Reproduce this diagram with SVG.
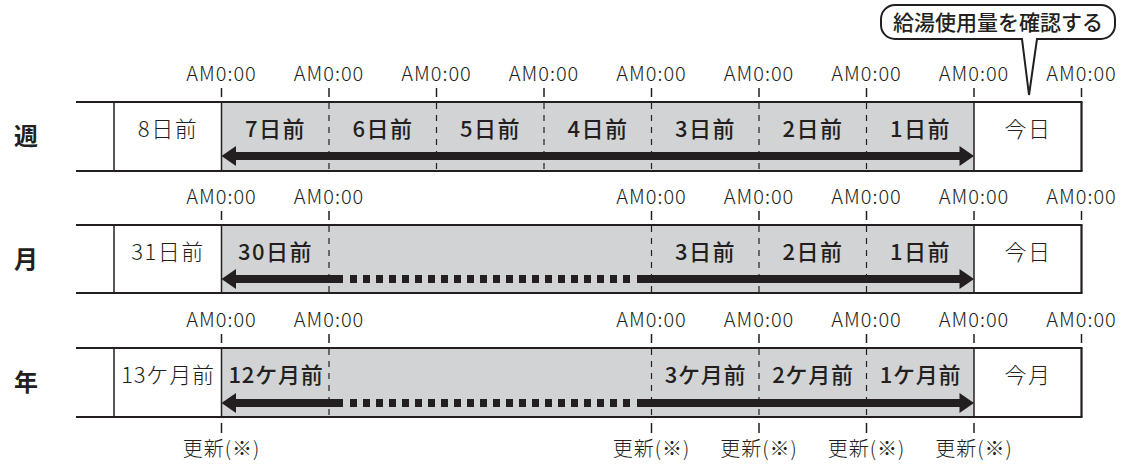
<svg xmlns="http://www.w3.org/2000/svg" width="1128" height="466" viewBox="0 0 1128 466">
<style>
text{font-family:"Noto Sans CJK JP","Noto Sans",sans-serif;fill:#231f20;text-anchor:middle}
.am{font-size:20px;letter-spacing:1px;font-weight:300}
.cell{font-size:22px;letter-spacing:1.5px;font-weight:300}
.b{font-weight:500}
.lbl{font-size:24px;font-weight:bold}
.upd{font-size:20px;letter-spacing:1px;font-weight:300}
.hl{stroke:#231f20;stroke-width:2.2;fill:none}
.vs{stroke:#231f20;stroke-width:1.5;fill:none}
.vd{stroke:#231f20;stroke-width:1.2;stroke-dasharray:6 6;fill:none}
.tk{stroke:#231f20;stroke-width:1.5;fill:none}
.gray{fill:#d2d3d5}
.ab{stroke:#231f20;stroke-width:8;fill:none}
.ad{stroke:#231f20;stroke-width:8;stroke-dasharray:7 6;fill:none}
.ah{fill:#231f20}
</style>
<defs>
<g id="tick9"><line class="tk" x1="0" y1="-14" x2="0" y2="-5"/></g>
</defs>

<g id="callout">
<path d="M895,5 H1101 A14,14 0 0 1 1115,19 V25 A14,14 0 0 1 1101,39 H1037 L1029,95 L1022,39 H895 A14,14 0 0 1 881,25 V19 A14,14 0 0 1 895,5 Z" fill="#fff" stroke="#231f20" stroke-width="2"/>
<text x="998" y="30" style="font-size:21px;font-weight:500">給湯使用量を確認する</text>
</g>

<!-- Week row -->
<g id="row-week">
<rect class="gray" x="221.5" y="102" width="752.5" height="69"/>
<line class="hl" x1="76" y1="102" x2="1082.5" y2="102"/>
<line class="hl" x1="76" y1="171" x2="1082.5" y2="171"/>
<line class="vs" x1="114" y1="102" x2="114" y2="171"/>
<line class="vs" x1="221.5" y1="102" x2="221.5" y2="171"/>
<line class="vs" x1="974" y1="102" x2="974" y2="171"/>
<line class="hl" x1="1081.5" y1="102" x2="1081.5" y2="171"/>
<line class="vd" x1="329" y1="103" x2="329" y2="170"/>
<line class="vd" x1="436.5" y1="103" x2="436.5" y2="170"/>
<line class="vd" x1="544" y1="103" x2="544" y2="170"/>
<line class="vd" x1="651.5" y1="103" x2="651.5" y2="170"/>
<line class="vd" x1="759" y1="103" x2="759" y2="170"/>
<line class="vd" x1="866.5" y1="103" x2="866.5" y2="170"/>
<text class="lbl" x="26" y="145">週</text>
<text class="cell" x="168" y="136.6">8日前</text>
<text class="cell b" x="275.5" y="136.6">7日前</text>
<text class="cell b" x="383" y="136.6">6日前</text>
<text class="cell b" x="490.5" y="136.6">5日前</text>
<text class="cell b" x="598" y="136.6">4日前</text>
<text class="cell b" x="705.5" y="136.6">3日前</text>
<text class="cell b" x="813" y="136.6">2日前</text>
<text class="cell b" x="920.5" y="136.6">1日前</text>
<text class="cell" x="1028" y="136.6">今日</text>
</g>
<g id="ticks-week" transform="translate(0,102)">
<use href="#tick9" x="221.5"/><use href="#tick9" x="329"/><use href="#tick9" x="436.5"/><use href="#tick9" x="544"/><use href="#tick9" x="651.5"/><use href="#tick9" x="759"/><use href="#tick9" x="866.5"/><use href="#tick9" x="974"/><use href="#tick9" x="1081.5"/>
<text class="am" x="221.5" y="-21">AM0:00</text><text class="am" x="329" y="-21">AM0:00</text><text class="am" x="436.5" y="-21">AM0:00</text><text class="am" x="544" y="-21">AM0:00</text><text class="am" x="651.5" y="-21">AM0:00</text><text class="am" x="759" y="-21">AM0:00</text><text class="am" x="866.5" y="-21">AM0:00</text><text class="am" x="974" y="-21">AM0:00</text><text class="am" x="1081.5" y="-21">AM0:00</text>
</g>

<!-- Month row -->
<g id="row-month">
<rect class="gray" x="221.5" y="225" width="752.5" height="68"/>
<line class="hl" x1="76" y1="225" x2="1082.5" y2="225"/>
<line class="hl" x1="76" y1="293" x2="1082.5" y2="293"/>
<line class="vs" x1="114" y1="225" x2="114" y2="293"/>
<line class="vs" x1="221.5" y1="225" x2="221.5" y2="293"/>
<line class="vs" x1="974" y1="225" x2="974" y2="293"/>
<line class="hl" x1="1081.5" y1="225" x2="1081.5" y2="293"/>
<line class="vd" x1="329" y1="226" x2="329" y2="292"/>
<line class="vd" x1="651.5" y1="226" x2="651.5" y2="292"/>
<line class="vd" x1="759" y1="226" x2="759" y2="292"/>
<line class="vd" x1="866.5" y1="226" x2="866.5" y2="292"/>
<text class="lbl" x="26" y="268">月</text>
<text class="cell" x="168" y="259.6">31日前</text>
<text class="cell b" x="275.5" y="259.6">30日前</text>
<text class="cell b" x="705.5" y="259.6">3日前</text>
<text class="cell b" x="813" y="259.6">2日前</text>
<text class="cell b" x="920.5" y="259.6">1日前</text>
<text class="cell" x="1028" y="259.6">今日</text>
</g>
<g id="ticks-month" transform="translate(0,225)">
<use href="#tick9" x="221.5"/><use href="#tick9" x="329"/><use href="#tick9" x="651.5"/><use href="#tick9" x="759"/><use href="#tick9" x="866.5"/><use href="#tick9" x="974"/><use href="#tick9" x="1081.5"/>
<text class="am" x="221.5" y="-21">AM0:00</text><text class="am" x="329" y="-21">AM0:00</text><text class="am" x="651.5" y="-21">AM0:00</text><text class="am" x="759" y="-21">AM0:00</text><text class="am" x="866.5" y="-21">AM0:00</text><text class="am" x="974" y="-21">AM0:00</text><text class="am" x="1081.5" y="-21">AM0:00</text>
</g>

<!-- Year row -->
<g id="row-year">
<rect class="gray" x="221.5" y="348" width="752.5" height="69"/>
<line class="hl" x1="76" y1="348" x2="1082.5" y2="348"/>
<line class="hl" x1="76" y1="417" x2="1082.5" y2="417"/>
<line class="vs" x1="114" y1="348" x2="114" y2="417"/>
<line class="vs" x1="221.5" y1="348" x2="221.5" y2="417"/>
<line class="vs" x1="974" y1="348" x2="974" y2="417"/>
<line class="hl" x1="1081.5" y1="348" x2="1081.5" y2="417"/>
<line class="vd" x1="329" y1="349" x2="329" y2="416"/>
<line class="vd" x1="651.5" y1="349" x2="651.5" y2="416"/>
<line class="vd" x1="759" y1="349" x2="759" y2="416"/>
<line class="vd" x1="866.5" y1="349" x2="866.5" y2="416"/>
<text class="lbl" x="26" y="391">年</text>
<text class="cell" x="168" y="382.6" style="letter-spacing:0.8px">13ケ月前</text>
<text class="cell b" x="276" y="382.6" style="letter-spacing:0.8px">12ケ月前</text>
<text class="cell b" x="705.5" y="382.6" style="letter-spacing:0.8px">3ケ月前</text>
<text class="cell b" x="813" y="382.6" style="letter-spacing:0.8px">2ケ月前</text>
<text class="cell b" x="920.5" y="382.6" style="letter-spacing:0.8px">1ケ月前</text>
<text class="cell" x="1028" y="382.6">今月</text>
</g>
<g id="ticks-year" transform="translate(0,348)">
<use href="#tick9" x="221.5"/><use href="#tick9" x="329"/><use href="#tick9" x="651.5"/><use href="#tick9" x="759"/><use href="#tick9" x="866.5"/><use href="#tick9" x="974"/><use href="#tick9" x="1081.5"/>
<text class="am" x="221.5" y="-21">AM0:00</text><text class="am" x="329" y="-21">AM0:00</text><text class="am" x="651.5" y="-21">AM0:00</text><text class="am" x="759" y="-21">AM0:00</text><text class="am" x="866.5" y="-21">AM0:00</text><text class="am" x="974" y="-21">AM0:00</text><text class="am" x="1081.5" y="-21">AM0:00</text>
</g>
<g id="updates">
<line class="tk" x1="221.5" y1="423" x2="221.5" y2="433"/>
<line class="tk" x1="651.5" y1="423" x2="651.5" y2="433"/>
<line class="tk" x1="759" y1="423" x2="759" y2="433"/>
<line class="tk" x1="866.5" y1="423" x2="866.5" y2="433"/>
<line class="tk" x1="974" y1="423" x2="974" y2="433"/>
<text class="upd" x="221.5" y="456">更新(※)</text>
<text class="upd" x="651.5" y="456">更新(※)</text>
<text class="upd" x="759" y="456">更新(※)</text>
<text class="upd" x="866.5" y="456">更新(※)</text>
<text class="upd" x="974" y="456">更新(※)</text>
</g>

<g id="connectors">
<line class="ab" x1="234" y1="156" x2="961" y2="156"/>
<polygon class="ah" points="221.5,156 236,146 236,166"/>
<polygon class="ah" points="974,156 959.5,146 959.5,166"/>

<line class="ab" x1="234" y1="279" x2="343" y2="279"/>
<line class="ad" x1="350" y1="279" x2="630" y2="279"/>
<line class="ab" x1="637" y1="279" x2="961" y2="279"/>
<polygon class="ah" points="221.5,279 236,269 236,289"/>
<polygon class="ah" points="974,279 959.5,269 959.5,289"/>

<line class="ab" x1="234" y1="403" x2="343" y2="403"/>
<line class="ad" x1="350" y1="403" x2="630" y2="403"/>
<line class="ab" x1="637" y1="403" x2="961" y2="403"/>
<polygon class="ah" points="221.5,403 236,393 236,413"/>
<polygon class="ah" points="974,403 959.5,393 959.5,413"/>
</g>
</svg>
